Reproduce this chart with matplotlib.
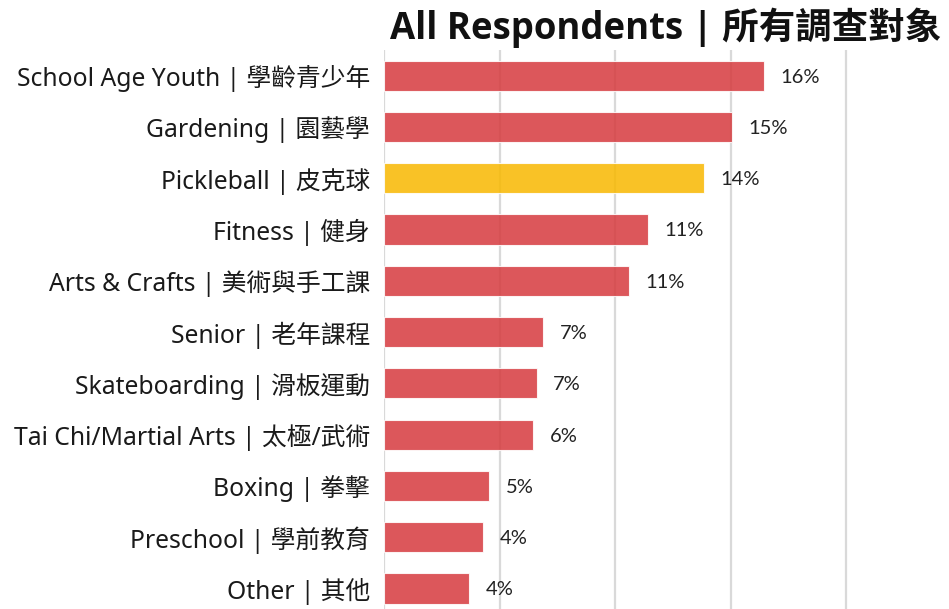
import matplotlib
matplotlib.use('Agg')
import matplotlib.pyplot as plt

# data (percent of all respondents)
categories = [
    'School Age Youth | 學齡青少年',
    'Gardening | 園藝學',
    'Pickleball | 皮克球',
    'Fitness | 健身',
    'Arts & Crafts | 美術與手工課',
    'Senior | 老年課程',
    'Skateboarding | 滑板運動',
    'Tai Chi/Martial Arts | 太極/武術',
    'Boxing | 拳擊',
    'Preschool | 學前教育',
    'Other | 其他',
]
values = [16.45, 15.06, 13.85, 11.43, 10.6, 6.9, 6.6, 6.45, 4.55, 4.29, 3.68]
highlight = 'Pickleball | 皮克球'

fonts = ['Noto Sans', 'Noto Sans CJK TC', 'DejaVu Sans']
plt.rcParams['font.family'] = fonts

red = '#d63a3e'
gold = '#f8b800'

fig = plt.figure(figsize=(9.49, 6.09), dpi=100)
ax = fig.add_axes([384 / 949, 0, 1 - 384 / 949, 1 - 50 / 609])

ypos = list(range(len(categories)))
colors = [gold if c == highlight else red for c in categories]
bars = ax.barh(ypos, values, height=0.59, color=colors, alpha=0.85,
               edgecolor='white', linewidth=0.8, zorder=3)

for y, v in zip(ypos, values):
    ax.annotate(f'{v:.0f}%', (v, y), xytext=(12, -1), textcoords='offset points',
                va='center', ha='left', fontsize=14.5, color='#222222', zorder=4,
                family=['Lato', 'DejaVu Sans'])

ax.set_xlim(0, 24.45)
ax.set_ylim(10.4, -0.5)
ax.set_xticks([0, 5, 10, 15, 20])
ax.xaxis.grid(True, color='#d9d9d9', linewidth=1.6, zorder=0)
ax.set_axisbelow(True)
ax.tick_params(axis='x', length=0, labelbottom=False)
ax.tick_params(axis='y', length=0, pad=10)
ax.set_yticks(ypos)
ax.set_yticklabels(categories, fontsize=17.8, color='#1a1a1a')
for s in ax.spines.values():
    s.set_visible(False)

fig.text(0.992, 0.955, 'All Respondents | 所有調查對象', ha='right', va='center',
         fontsize=26.3, fontweight='bold', color='#111111',
         family=['Open Sans', 'Noto Sans CJK TC', 'DejaVu Sans'])

fig.savefig('out.png', dpi=100)
